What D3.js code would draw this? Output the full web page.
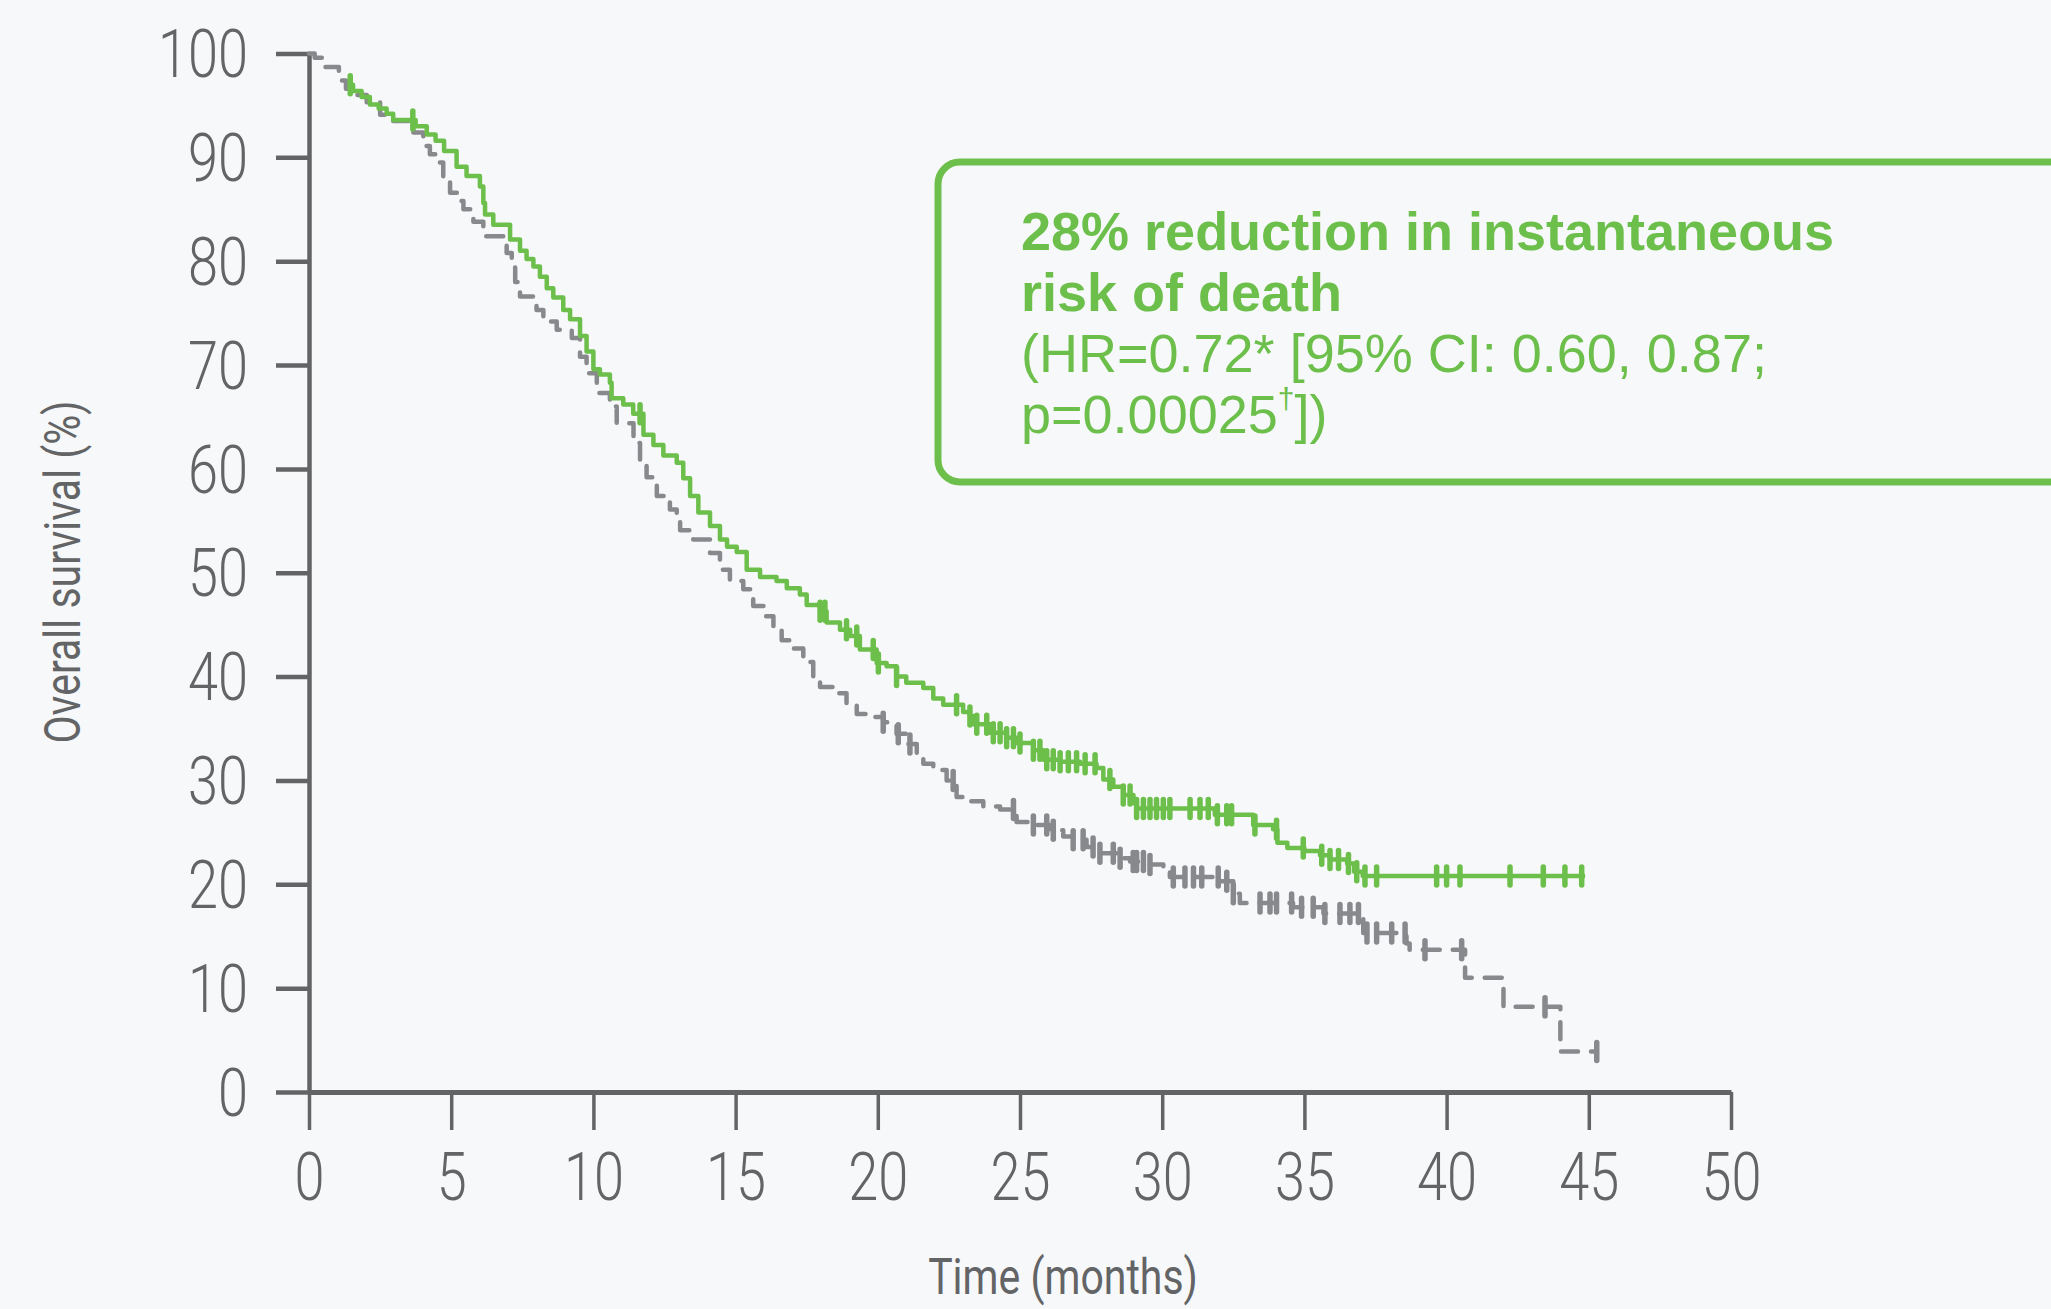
<!DOCTYPE html>
<html>
<head>
<meta charset="utf-8">
<script src="https://cdn.jsdelivr.net/npm/d3@7"></script>
<style>
  html, body { margin: 0; padding: 0; background: #f7f8fa; }
  svg { display: block; }
</style>
</head>
<body>
<svg id="chart" width="2051" height="1309"></svg>
<script>
// ---------------- DATA ----------------
const xTicks = [0, 5, 10, 15, 20, 25, 30, 35, 40, 45, 50];
const yTicks = [0, 10, 20, 30, 40, 50, 60, 70, 80, 90, 100];
const xTitle = "Time (months)";
const yTitle = "Overall survival (%)";
const boxLines = [
  { text: "28% reduction in instantaneous", bold: true },
  { text: "risk of death", bold: true },
  { text: "(HR=0.72* [95% CI: 0.60, 0.87;", bold: false },
  { text: "p=0.00025", sup: "\u2020", after: "])", bold: false }
];

// green arm (solid): [time (months), survival (%)] step points
const greenSteps = [
  [1.45, 97.0], [1.55, 96.4], [1.85, 95.8], [2.14, 95.1], [2.45, 94.7], [2.73, 94.2],
  [2.96, 93.6], [3.75, 93.0], [4.14, 92.2], [4.45, 91.6], [4.75, 90.6], [5.19, 89.1],
  [5.54, 88.2], [6.01, 87.2], [6.13, 85.6], [6.19, 84.5], [6.48, 83.5], [7.07, 82.1],
  [7.42, 81.0], [7.65, 80.2], [7.89, 79.5], [8.12, 78.5], [8.36, 77.4], [8.59, 76.5],
  [8.94, 75.3], [9.18, 74.4], [9.53, 72.8], [9.76, 71.3], [10.0, 69.6], [10.23, 69.1],
  [10.58, 68.3], [10.64, 66.8], [11.05, 66.2], [11.4, 65.3], [11.76, 63.3], [12.11, 62.3],
  [12.46, 61.3], [12.93, 60.6], [13.16, 59.1], [13.40, 57.4], [13.69, 55.8], [14.1, 54.5],
  [14.45, 53.2], [14.7, 52.5], [15.04, 52.0], [15.39, 50.3], [15.86, 49.6], [16.44, 49.2],
  [16.8, 48.5], [17.26, 47.9], [17.5, 46.9], [17.97, 46.3], [18.2, 45.2], [18.67, 44.5],
  [19.03, 43.9], [19.37, 42.6], [19.96, 41.3], [20.31, 41.0], [20.66, 40.0], [21.0, 39.4],
  [21.6, 38.9], [21.95, 37.9], [22.3, 37.3], [23.0, 36.6], [23.24, 36.2], [23.36, 35.4],
  [23.95, 34.6], [24.53, 34.1], [24.88, 33.6], [25.47, 32.9], [25.82, 32.0], [26.41, 31.8],
  [27.11, 31.6], [27.69, 31.2], [27.93, 30.1], [28.28, 29.4], [28.63, 28.6], [28.99, 27.8],
  [29.1, 27.3], [31.85, 26.7], [33.2, 25.7], [33.9, 25.3], [34.05, 24.0], [34.4, 23.5],
  [35.0, 23.2], [35.55, 22.8], [35.9, 22.4], [36.5, 22.0], [36.75, 21.2], [37.05, 20.8],
  [44.87, 20.8]
];
const greenCensor = [
  1.45, 3.65, 11.64, 17.97, 18.14, 18.9, 19.26, 19.84, 20.02, 20.66, 22.77, 23.24, 23.48,
  23.83, 24.06, 24.3, 24.53, 24.77, 25.0, 25.47, 25.7, 25.94, 26.17, 26.41, 26.7, 26.99,
  27.29, 27.64, 28.16, 28.63, 28.87, 29.1, 29.34, 29.57, 29.8, 30.04, 30.27, 30.98, 31.33,
  31.62, 31.94, 32.27, 32.44, 33.26, 34.02, 34.96, 35.61, 35.9, 36.2, 36.55, 36.84, 37.13,
  37.54, 39.65, 40.0, 40.47, 42.23, 43.4, 44.16, 44.75
];

// grey arm (dashed)
const greySteps = [
  [0, 100], [0.2, 99.6], [0.45, 98.7], [1.05, 97.4], [1.3, 96.6], [1.6, 96.0], [2.03, 95.3],
  [2.5, 94.1], [2.96, 93.5], [3.67, 92.4], [4.02, 91.1], [4.25, 90.3], [4.49, 89.5],
  [4.72, 87.9], [4.96, 86.6], [5.2, 85.8], [5.43, 85.0], [5.78, 83.8], [6.13, 82.4],
  [6.95, 80.8], [7.13, 79.4], [7.25, 78.0], [7.42, 76.6], [8.0, 75.3], [8.24, 74.2],
  [8.71, 73.4], [9.24, 72.6], [9.53, 70.8], [9.76, 69.2], [10.12, 67.3], [10.58, 66.0],
  [10.82, 64.4], [11.41, 62.5], [11.64, 60.6], [11.87, 59.2], [12.23, 57.4], [12.69, 56.1],
  [12.93, 55.1], [13.05, 54.1], [13.51, 53.2], [14.1, 51.9], [14.45, 50.3], [14.8, 49.2],
  [15.27, 48.4], [15.62, 46.8], [15.98, 45.8], [16.33, 44.8], [16.62, 43.5], [16.91, 42.7],
  [17.38, 41.4], [17.73, 40.0], [17.97, 39.0], [18.43, 38.4], [18.9, 37.4], [19.26, 36.4],
  [19.72, 36.1], [20.19, 35.6], [20.66, 34.5], [21.0, 33.5], [21.37, 32.3], [21.6, 31.6],
  [21.95, 31.0], [22.42, 30.0], [22.77, 28.4], [23.24, 28.0], [23.71, 27.5], [24.3, 27.2],
  [24.88, 26.0], [25.47, 25.7], [26.06, 25.2], [26.52, 24.6], [26.87, 24.3], [27.34, 23.6],
  [27.81, 23.0], [28.4, 22.5], [28.87, 22.2], [29.57, 21.9], [30.04, 21.4], [30.27, 20.7],
  [32.0, 20.3], [32.5, 19.1], [32.73, 18.2], [34.6, 17.8], [35.67, 17.2], [37.07, 15.3],
  [38.59, 14.3], [38.7, 13.7], [40.65, 11.0], [42.0, 8.2], [44.0, 3.9], [45.27, 3.9]
];
const greyCensor = [
  20.19, 20.72, 21.13, 22.65, 24.77, 25.47, 25.94, 26.17, 26.87, 27.22, 27.57, 27.81,
  28.28, 28.52, 28.98, 29.1, 29.34, 29.57, 30.39, 30.8, 31.1, 31.39, 31.97, 32.27, 32.5,
  33.44, 33.79, 34.02, 34.55, 34.9, 35.31, 35.72, 36.25, 36.6, 36.9, 37.2, 37.54, 38.07,
  38.54, 39.24, 40.53, 43.46, 45.28
];

// ---------------- STYLE ----------------
const GREEN = "#6cbf4a";
const GREY = "#88898c";
const AXIS = "#636466";
const COND = 0.82; // horizontal compression for the condensed axis font

const svg = d3.select("#chart");
svg.append("rect").attr("width", 2051).attr("height", 1309).attr("fill", "#f7f8fa");

const x = d3.scaleLinear().domain([0, 50]).range([309, 1731]);
const y = d3.scaleLinear().domain([0, 100]).range([1092, 53.5]);

// ---------------- AXES ----------------
const yAxis = svg.append("g").attr("transform", `translate(${x(0)},0)`)
  .call(d3.axisLeft(y).tickValues(yTicks).tickSize(33).tickSizeOuter(0).tickPadding(28));
yAxis.select(".domain").attr("stroke", AXIS).attr("stroke-width", 4.5);
yAxis.selectAll(".tick line").attr("stroke", AXIS).attr("stroke-width", 4.5);
yAxis.selectAll(".tick text")
  .attr("fill", AXIS)
  .attr("font-family", "Roboto, 'Liberation Sans', sans-serif")
  .attr("font-weight", 300)
  .attr("font-size", 66)
  .attr("dy", "0.35em")
  .attr("x", -61 / COND)
  .attr("transform", `scale(${COND},1)`);

const xAxis = svg.append("g").attr("transform", `translate(0,${y(0)})`)
  .call(d3.axisBottom(x).tickValues(xTicks).tickSize(38).tickSizeOuter(0).tickPadding(23));
xAxis.select(".domain").attr("stroke", AXIS).attr("stroke-width", 5);
xAxis.selectAll(".tick line").attr("stroke", AXIS).attr("stroke-width", 3.5);
xAxis.selectAll(".tick text")
  .attr("fill", AXIS)
  .attr("font-family", "Roboto, 'Liberation Sans', sans-serif")
  .attr("font-weight", 300)
  .attr("font-size", 66)
  .attr("transform", `scale(${COND},1)`);

// axis titles
svg.append("g").attr("transform", `translate(1063,1294) scale(${COND},1)`)
  .append("text").attr("text-anchor", "middle")
  .attr("font-family", "Roboto, 'Liberation Sans', sans-serif")
  .attr("font-size", 50).attr("fill", AXIS).text(xTitle);

svg.append("g").attr("transform", `translate(80,572) rotate(-90) scale(${COND},1)`)
  .append("text").attr("text-anchor", "middle")
  .attr("font-family", "Roboto, 'Liberation Sans', sans-serif")
  .attr("font-size", 50).attr("fill", AXIS).text(yTitle);

// ---------------- CURVES ----------------
const line = d3.line().x(d => x(d[0])).y(d => y(d[1])).curve(d3.curveStepAfter);
function survAt(steps, t) {
  let s = steps[0][1];
  for (const p of steps) { if (p[0] <= t) s = p[1]; else break; }
  return s;
}

svg.append("path").datum(greySteps)
  .attr("d", line).attr("fill", "none")
  .attr("stroke", GREY).attr("stroke-width", 4.5)
  .attr("stroke-dasharray", "17,13").attr("stroke-linecap", "round")
  .attr("stroke-linejoin", "round");

svg.append("g").selectAll("line").data(greyCensor).join("line")
  .attr("x1", d => x(d)).attr("x2", d => x(d))
  .attr("y1", d => y(survAt(greySteps, d)) - 9)
  .attr("y2", d => y(survAt(greySteps, d)) + 9)
  .attr("stroke", GREY).attr("stroke-width", 5.5).attr("stroke-linecap", "round");

svg.append("path").datum(greenSteps)
  .attr("d", line).attr("fill", "none")
  .attr("stroke", GREEN).attr("stroke-width", 4.5)
  .attr("stroke-linejoin", "round");

svg.append("g").selectAll("line").data(greenCensor).join("line")
  .attr("x1", d => x(d)).attr("x2", d => x(d))
  .attr("y1", d => y(survAt(greenSteps, d)) - 9)
  .attr("y2", d => y(survAt(greenSteps, d)) + 9)
  .attr("stroke", GREEN).attr("stroke-width", 5.5).attr("stroke-linecap", "round");

// ---------------- ANNOTATION BOX ----------------
svg.append("rect")
  .attr("x", 938).attr("y", 162).attr("width", 1300).attr("height", 320)
  .attr("rx", 22).attr("ry", 22)
  .attr("fill", "none").attr("stroke", GREEN).attr("stroke-width", 7);

const boxText = svg.append("g");
boxLines.forEach((l, i) => {
  const t = boxText.append("text")
    .attr("x", 1021).attr("y", 250 + i * 61)
    .attr("font-family", "'Liberation Sans', Arial, sans-serif")
    .attr("font-size", 54)
    .attr("font-weight", l.bold ? 700 : 400)
    .attr("fill", GREEN);
  t.append("tspan").text(l.text);
  if (l.sup) {
    t.append("tspan").attr("font-size", 30).attr("dy", -24).text(l.sup);
    t.append("tspan").attr("dy", 24).text(l.after);
  }
});
</script>
</body>
</html>
